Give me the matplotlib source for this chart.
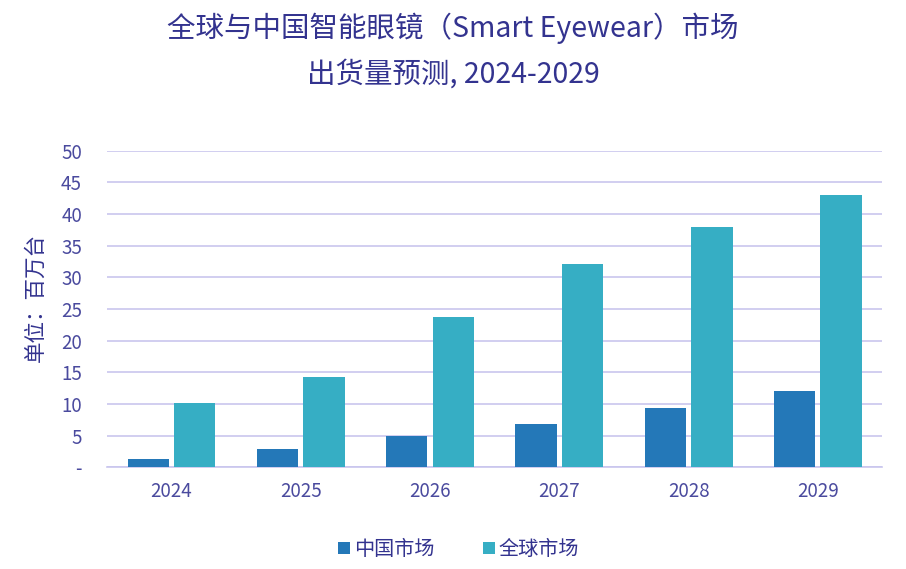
import matplotlib
matplotlib.use('Agg')
import matplotlib.pyplot as plt
import numpy as np

plt.rcParams['font.family'] = ['Noto Sans CJK SC', 'DejaVu Sans']

years = ['2024', '2025', '2026', '2027', '2028', '2029']
china = [1.3, 2.8, 4.9, 6.8, 9.3, 12.0]
world = [10.1, 14.2, 23.7, 32.1, 38.0, 43.0]
yticks = [0, 5, 10, 15, 20, 25, 30, 35, 40, 45, 50]
ytick_labels = ['-', '5', '10', '15', '20', '25', '30', '35', '40', '45', '50']

text_color = '#33338f'
tick_color = '#4a4a9e'

fig = plt.figure(figsize=(9.06, 5.69), dpi=100)
ax = fig.add_axes([0.118, 0.179, 0.856, 0.556])

x = np.arange(len(years))
w = 0.32
ax.bar(x - 0.18, china, width=w, color='#2478b8', label='中国市场', zorder=3)
ax.bar(x + 0.18, world, width=w, color='#36aec4', label='全球市场', zorder=3)

ax.set_xlim(-0.5, 5.5)
ax.set_ylim(0, 50)
ax.set_yticks(yticks)
ax.set_yticklabels(ytick_labels)
ax.set_xticks(x)
ax.set_xticklabels(years)
ax.tick_params(axis='both', length=0, labelsize=13.5, colors=tick_color)
ax.tick_params(axis='y', pad=18)
ax.tick_params(axis='x', pad=10)
ax.yaxis.grid(True, color='#c9c6ee', linewidth=1.2, zorder=0)
for s in ['top', 'right', 'left']:
    ax.spines[s].set_visible(False)
ax.spines['bottom'].set_color('#c9c6ee')
ax.spines['bottom'].set_linewidth(1.2)

ax.set_ylabel('单位：百万台', fontsize=15.5, color=text_color)
ax.yaxis.set_label_coords(-0.078, 0.535)

fig.text(0.5, 0.950, '全球与中国智能眼镜（Smart Eyewear）市场', ha='center', va='center',
         fontsize=20.5, color=text_color)
fig.text(0.5, 0.868, '出货量预测, 2024-2029', ha='center', va='center',
         fontsize=20.5, color=text_color)

fig.legend(loc='center', bbox_to_anchor=(0.506, 0.034), ncol=2, frameon=False,
           fontsize=14.5, labelcolor=text_color, handlelength=0.6, handleheight=0.6,
           handletextpad=0.2, columnspacing=2.4)

fig.savefig('out.png', dpi=100)
